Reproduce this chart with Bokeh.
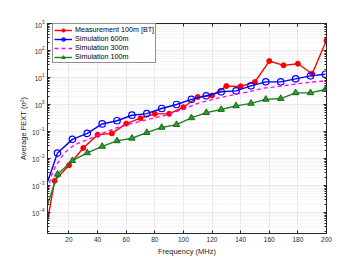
from bokeh.plotting import figure
from bokeh.models import (Range1d, FixedTicker, LogAxis, LinearAxis, Legend, LegendItem)
from bokeh.embed import file_html
from bokeh.resources import INLINE

# ---- data ----
meas_freq = [5, 10, 20, 30, 40, 50, 60, 70, 80, 90, 100, 110, 120, 130, 140, 150, 160, 170, 180, 190, 200]
meas_val = [5.0e-5, 1.48e-3, 5.6e-3, 2.45e-2, 7.6e-2, 8.5e-2, 0.195, 0.31, 0.45, 0.45, 0.79,
            1.9, 2.14, 4.8, 4.7, 6.8, 40.7, 28.2, 32.4, 13.8, 240.0]

sim_freq = [5, 12.0, 22.4, 32.8, 43.2, 53.6, 64.0, 74.4, 84.8, 95.2, 105.6, 116.0, 126.4,
            136.8, 147.2, 157.6, 168.0, 178.4, 188.8, 199.2]
sim600_val = [1.35e-3, 1.58e-2, 5.1e-2, 8.5e-2, 0.19, 0.25, 0.40, 0.46, 0.71, 1.0, 1.55, 2.1,
              2.95, 3.2, 4.9, 6.9, 6.9, 8.9, 11.5, 13.2]
sim100_val = [1.9e-4, 2.6e-3, 8.3e-3, 1.62e-2, 2.8e-2, 4.5e-2, 5.6e-2, 9.1e-2, 0.141, 0.18,
              0.32, 0.50, 0.65, 0.89, 1.10, 1.55, 1.66, 2.7, 2.7, 3.6]

sim300_freq = [5, 8, 10, 13, 16, 20, 25, 33, 43, 54, 63, 77, 86, 100, 110, 121, 133, 145,
               156, 168, 180, 190, 200]
sim300_val = [6.8e-4, 2.5e-3, 4.5e-3, 7.9e-3, 1.41e-2, 2.3e-2, 3.4e-2, 5.0e-2, 8.5e-2, 0.141,
              0.19, 0.295, 0.38, 0.68, 1.10, 1.58, 2.19, 2.9, 4.0, 4.8, 5.9, 6.8, 7.6]

x_ticks = [20, 40, 60, 80, 100, 120, 140, 160, 180, 200]
y_ticks = [1e-4, 1e-3, 1e-2, 1e-1, 1e0, 1e1, 1e2, 1e3]
series_labels = ["Measurement 100m [BT]", "Simulation 600m", "Simulation 300m", "Simulation 100m"]

FONT = "Liberation Sans"
AX = "#262626"

p = figure(width=360, height=270, y_axis_type="log",
           x_range=Range1d(5, 200), y_range=Range1d(1.66e-5, 1e3),
           output_backend="svg", toolbar_location=None,
           min_border_left=47, min_border_right=34, min_border_top=23, min_border_bottom=37)
p.background_fill_color = "white"
p.border_fill_color = "white"
p.outline_line_color = AX
p.outline_line_width = 0.8

minor = [m * d for d in y_ticks[:-1] + [1e-5] for m in range(2, 10)]
p.yaxis.ticker = FixedTicker(ticks=y_ticks, minor_ticks=minor)
p.xaxis.ticker = FixedTicker(ticks=x_ticks)

for ax in (p.xaxis[0], p.yaxis[0]):
    ax.axis_line_color = AX
    ax.major_tick_line_color = AX
    ax.minor_tick_line_color = AX
    ax.major_tick_in = 3
    ax.major_tick_out = 0
    ax.minor_tick_in = 2
    ax.minor_tick_out = 0
    ax.major_label_text_font = FONT
    ax.major_label_text_font_size = "6.5px"
    ax.major_label_text_color = AX
    ax.axis_label_text_font = FONT
    ax.axis_label_text_font_size = "7.5px"
    ax.axis_label_text_font_style = "normal"
    ax.axis_label_text_color = AX
    ax.major_label_standoff = 3
p.xaxis.minor_tick_line_color = None
p.xaxis.axis_label = "Frequency (MHz)"
p.xaxis.axis_label_standoff = 2
p.yaxis.axis_label = "Average FEXT (σ²)"
p.yaxis.axis_label_standoff = 1

# mirror axes (box with inward ticks)
ra = LogAxis(ticker=FixedTicker(ticks=y_ticks, minor_ticks=minor))
ta = LinearAxis(ticker=FixedTicker(ticks=x_ticks))
for ax in (ra, ta):
    ax.axis_line_color = AX
    ax.major_tick_line_color = AX
    ax.minor_tick_line_color = AX
    ax.major_tick_in = 3
    ax.major_tick_out = 0
    ax.minor_tick_in = 2
    ax.minor_tick_out = 0
    ax.major_label_text_font_size = "0px"
    ax.major_label_text_color = None
    ax.major_label_standoff = 0
ta.minor_tick_line_color = None
p.add_layout(ra, "right")
p.add_layout(ta, "above")

# grids
p.xgrid.grid_line_color = "#dcdcdc"
p.xgrid.grid_line_width = 0.6
p.ygrid.grid_line_color = "#dcdcdc"
p.ygrid.grid_line_width = 0.6
p.ygrid.minor_grid_line_color = "#e2e2e2"
p.ygrid.minor_grid_line_dash = "1 1"
p.ygrid.minor_grid_line_width = 0.6

# series
r_line = p.line(meas_freq, meas_val, line_color="#FF0000", line_width=1.4)
r_mark = p.scatter(meas_freq[1:], meas_val[1:], marker="circle", size=5,
                   fill_color="#FF0000", line_color="#FF0000")

b_line = p.line(sim_freq, sim600_val, line_color="#0000FF", line_width=1.4)
b_mark = p.scatter(sim_freq[1:], sim600_val[1:], marker="circle", size=6.5,
                   fill_color=None, line_color="#0000FF", line_width=1.2)

m_line = p.line(sim300_freq, sim300_val, line_color="#FF00FF", line_width=1.3, line_dash="4 3")

g_line = p.line(sim_freq, sim100_val, line_color="#1E801E", line_width=1.4)
g_mark = p.scatter(sim_freq[1:], sim100_val[1:], marker="triangle", size=6.5,
                   fill_color="#2E9A2E", line_color="#106010", line_width=0.9)

legend = Legend(items=[
    LegendItem(label=series_labels[0], renderers=[r_line, r_mark]),
    LegendItem(label=series_labels[1], renderers=[b_line, b_mark]),
    LegendItem(label=series_labels[2], renderers=[m_line]),
    LegendItem(label=series_labels[3], renderers=[g_line, g_mark]),
], location=(5, 170))
legend.label_text_font = FONT
legend.label_text_font_size = "7.2px"
legend.label_text_color = "#000000"
legend.label_height = 8
legend.glyph_height = 8
legend.glyph_width = 18
legend.label_standoff = 3
legend.padding = 1
legend.spacing = 0
legend.margin = 0
legend.border_line_color = AX
legend.border_line_width = 0.8
legend.background_fill_color = "white"
legend.background_fill_alpha = 1.0
p.add_layout(legend, "center")

open("out.html", "w").write(file_html(p, INLINE))
